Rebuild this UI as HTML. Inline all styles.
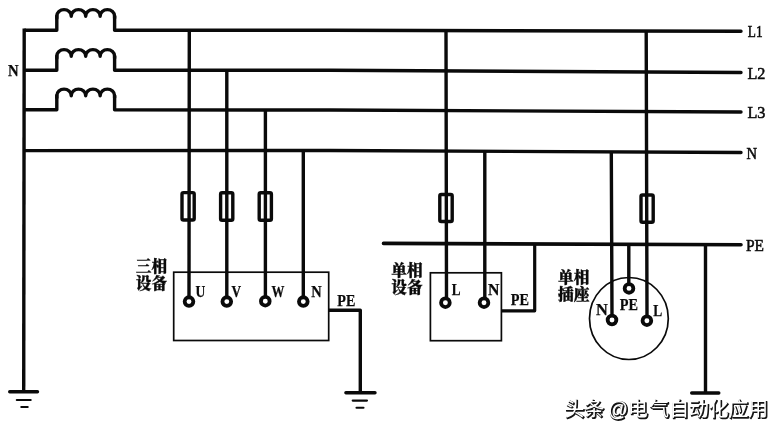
<!DOCTYPE html>
<html lang="zh">
<head>
<meta charset="utf-8">
<title>TN-S 接线图</title>
<style>
html,body{margin:0;padding:0;background:#fff;}
body{width:780px;height:432px;overflow:hidden;position:relative;}
svg{position:absolute;left:0;top:0;display:block;will-change:transform;opacity:.999;}
.w{stroke:#0a0a0a;stroke-width:3.4;fill:none;stroke-linecap:butt;stroke-linejoin:round;}
.wr{stroke:#0a0a0a;stroke-width:3.4;fill:none;stroke-linecap:round;stroke-linejoin:round;}
.t{stroke:#0a0a0a;stroke-width:1.7;fill:none;}
.g2{stroke:#0a0a0a;stroke-width:2.1;fill:none;stroke-linecap:round;}
.f{stroke:#0a0a0a;stroke-width:3.4;fill:none;stroke-linejoin:round;}
.c{stroke:#0a0a0a;stroke-width:3.8;fill:#fff;}
.lb{font-family:"Liberation Serif","Noto Serif CJK SC",serif;font-weight:bold;font-size:16.6px;fill:#0a0a0a;stroke:#0a0a0a;stroke-width:.25;}
.rl{font-family:"Liberation Serif","Noto Serif CJK SC",serif;font-size:17.6px;fill:#0a0a0a;stroke:#0a0a0a;stroke-width:.55;}
.cj{font-family:"Liberation Serif","Noto Serif CJK SC",serif;font-weight:900;font-size:15.7px;fill:#0a0a0a;stroke:#0a0a0a;stroke-width:.3;}
.wm{font-family:"Liberation Sans","Noto Sans CJK SC",sans-serif;font-size:19.8px;}
</style>
</head>
<body>
<svg width="780" height="432" viewBox="0 0 780 432">
<rect width="780" height="432" fill="#fff"/>
<!-- bus lines -->
<path class="wr" d="M25 30.2H56.8V16 M114.6 16V30.2L330 30.3L741 31.3"/>
<path class="wr" d="M25 70.2H56.8V56 M114.6 56V70.2L330 70.3L741 72.5"/>
<path class="wr" d="M25 109.7H56.8V95.5 M114.6 95.5V109.8L330 110L741 112"/>
<path class="wr" d="M25 150.6L330 150.5L741 152.5"/>
<path class="wr" style="stroke-width:3.6" d="M383.5 243.4L741 244.7"/>
<!-- coils -->
<path class="wr" d="M56.8 18.2 V16.2 A7.225 6.6 0 0 1 71.25 16.2 A7.225 6.6 0 0 1 85.7 16.2 A7.225 6.6 0 0 1 100.15 16.2 A7.225 6.6 0 0 1 114.6 16.2 V18.2"/>
<path class="wr" d="M56.8 58.2 V56.2 A7.225 6.6 0 0 1 71.25 56.2 A7.225 6.6 0 0 1 85.7 56.2 A7.225 6.6 0 0 1 100.15 56.2 A7.225 6.6 0 0 1 114.6 56.2 V58.2"/>
<path class="wr" d="M56.8 97.7 V95.7 A7.225 6.6 0 0 1 71.25 95.7 A7.225 6.6 0 0 1 85.7 95.7 A7.225 6.6 0 0 1 100.15 95.7 A7.225 6.6 0 0 1 114.6 95.7 V97.7"/>
<!-- left vertical & ground -->
<path class="w" d="M24.2 28.5L23.7 392"/>
<path class="wr" d="M9.7 391.7H37.5"/>
<path class="g2" d="M16.8 400H30.7 M21.3 407H27.7"/>
<!-- three-phase drops -->
<path class="w" d="M189.3 30.2L189 297 M226.8 70.2V297 M265.4 110V297 M303.3 150.5V297"/>
<!-- single-phase drops -->
<path class="w" d="M446 30.6L446.5 298 M484.8 151.2V298"/>
<!-- socket drops -->
<path class="w" d="M611.3 151.8L612 315 M646.2 31L647 315.5 M628.8 244.3V283.5"/>
<!-- fuses -->
<rect class="f" x="182" y="192.6" width="12.2" height="27.4" rx="1.5"/>
<rect class="f" x="220.6" y="192.8" width="12.2" height="27.4" rx="1.5"/>
<rect class="f" x="259.2" y="192.8" width="12.2" height="27.4" rx="1.5"/>
<rect class="f" x="439.8" y="194.5" width="12.4" height="27" rx="1.5"/>
<rect class="f" x="641" y="195" width="12.2" height="27.2" rx="1.5"/>
<!-- boxes -->
<rect class="t" x="173.7" y="272.2" width="155" height="68.3"/>
<rect class="t" x="430.4" y="272.8" width="71" height="67.9"/>
<ellipse class="t" cx="628.9" cy="318.5" rx="39.4" ry="41"/>
<!-- terminals -->
<circle class="c" cx="189" cy="301.6" r="4.35"/>
<circle class="c" cx="226.8" cy="301.6" r="4.35"/>
<circle class="c" cx="265.3" cy="301.2" r="4.35"/>
<circle class="c" cx="303.3" cy="301.6" r="4.35"/>
<circle class="c" cx="445.4" cy="302.7" r="4.35"/>
<circle class="c" cx="484" cy="302.7" r="4.35"/>
<circle class="c" cx="629" cy="288.4" r="4.35"/>
<circle class="c" cx="612" cy="320" r="4.35"/>
<circle class="c" cx="646.9" cy="320.7" r="4.35"/>
<!-- PE wires -->
<path class="w" d="M328.7 310.2H360.3V393"/>
<path class="wr" d="M345.9 392.8H375"/>
<path class="g2" d="M352.7 400.6H367 M356.5 407.8H363.5"/>
<path class="w" style="stroke-width:3.2" d="M501.3 310.8H534.7V244"/>
<path class="w" d="M705.5 244.5V393"/>
<path class="wr" d="M691.7 393H718.8"/>
<!-- labels -->
<text class="lb" x="8.1" y="75.8" textLength="10.6" lengthAdjust="spacingAndGlyphs">N</text>
<text class="lb" x="195.6" y="296.7" textLength="9.8" lengthAdjust="spacingAndGlyphs">U</text>
<text class="lb" x="231.5" y="296.7" textLength="9.6" lengthAdjust="spacingAndGlyphs">V</text>
<text class="lb" x="271.5" y="297" textLength="12.9" lengthAdjust="spacingAndGlyphs">W</text>
<text class="lb" x="311.3" y="297" textLength="10.4" lengthAdjust="spacingAndGlyphs">N</text>
<text class="lb" x="337.3" y="305.8" textLength="18" lengthAdjust="spacingAndGlyphs">PE</text>
<text class="lb" x="451.8" y="295.3" textLength="8.8" lengthAdjust="spacingAndGlyphs">L</text>
<text class="lb" x="488" y="295.3" textLength="11.4" lengthAdjust="spacingAndGlyphs">N</text>
<text class="lb" x="510.8" y="305.4" textLength="18.2" lengthAdjust="spacingAndGlyphs">PE</text>
<text class="lb" x="596" y="315.2" textLength="11.8" lengthAdjust="spacingAndGlyphs">N</text>
<text class="lb" x="619.8" y="309.8" textLength="18.2" lengthAdjust="spacingAndGlyphs">PE</text>
<text class="lb" x="653.3" y="316.4" textLength="9" lengthAdjust="spacingAndGlyphs">L</text>
<text class="rl" x="747.8" y="36.7" textLength="14.8" lengthAdjust="spacingAndGlyphs">L1</text>
<text class="rl" x="747.4" y="78.6" textLength="18" lengthAdjust="spacingAndGlyphs">L2</text>
<text class="rl" x="747.4" y="118.3" textLength="18" lengthAdjust="spacingAndGlyphs">L3</text>
<text class="rl" x="746.5" y="158.7" textLength="10.6" lengthAdjust="spacingAndGlyphs">N</text>
<text class="rl" x="746" y="251" textLength="18" lengthAdjust="spacingAndGlyphs">PE</text>
<text class="cj" x="135.8" y="271.5">三相</text>
<text class="cj" x="135.8" y="288.5">设备</text>
<text class="cj" x="391.3" y="276.3">单相</text>
<text class="cj" x="391.3" y="293">设备</text>
<text class="cj" x="558" y="283">单相</text>
<text class="cj" x="558" y="300.2">插座</text>
<!-- watermark -->
<g class="wm">
<text x="565.4" y="417" fill="#141414" stroke="#141414" stroke-width="1.3" stroke-linejoin="round">头条 <tspan dx="-1.5">@</tspan>电<tspan dx="1.5">气</tspan>自动化应用</text>
<text x="564.4" y="415.9" fill="#fff">头条 <tspan dx="-1.5">@</tspan>电<tspan dx="1.5">气</tspan>自动化应用</text>
</g>
</svg>
</body>
</html>
